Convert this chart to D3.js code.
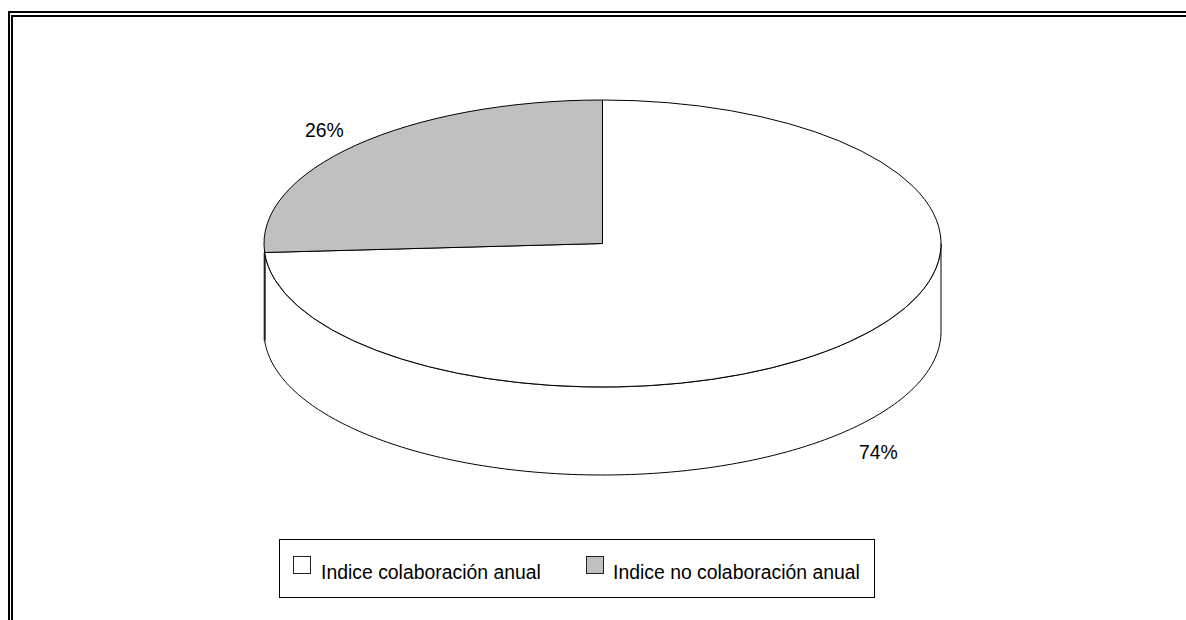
<!DOCTYPE html>
<html>
<head>
<meta charset="utf-8">
<script src="https://cdn.jsdelivr.net/npm/d3@7"></script>
<style>
  html, body { margin: 0; padding: 0; background: #fff; }
  svg { display: block; }
  text { font-family: "Liberation Sans", Arial, sans-serif; font-size: 19.4px; fill: #000; }
</style>
</head>
<body>
<script>
var categories = ["Indice colaboración anual", "Indice no colaboración anual"];
var values = [74, 26];
var sliceLabels = ["74%", "26%"];
var colors = ["#ffffff", "#c0c0c0"];

var width = 1186, height = 620;
var cx = 602.5, cy = 243.5, rx = 338.5, ry = 143.5, depth = 88;

var svg = d3.select("body").append("svg")
    .attr("width", width)
    .attr("height", height);

// double frame, open on the right and at the bottom
var frame = svg.append("g")
    .attr("fill", "none")
    .attr("stroke", "#000")
    .attr("stroke-width", 2);
frame.append("path").attr("d", "M9,620V12H1186");
frame.append("path").attr("d", "M12,620V16H1186");

var pie = d3.pie().sort(null);
var slices = pie(values);
var arc = d3.arc().innerRadius(0).outerRadius(rx);
var flat = "translate(" + cx + "," + cy + ") scale(1," + (ry / rx) + ")";

// side wall of the white slice, from the right edge round to where the grey slice starts
var wallAngle = slices[0].endAngle;
var wallPoints = d3.range(0, 181).map(function(i) {
    var a = Math.PI / 2 + (wallAngle - Math.PI / 2) * i / 180;
    return [cx + rx * Math.sin(a), cy - ry * Math.cos(a)];
});
var wallLine = d3.line();
var bottomPoints = wallPoints.map(function(p) { return [p[0], p[1] + depth]; });
var wallShape = bottomPoints.concat(wallPoints.slice().reverse());

svg.append("path")
    .attr("d", wallLine(wallShape) + "Z")
    .attr("fill", "#fff")
    .attr("stroke", "#000")
    .attr("stroke-width", 1);

// left wall edge reads heavier in the reference
svg.append("path")
    .attr("d", wallLine([wallPoints[180], bottomPoints[180]]))
    .attr("stroke", "#222")
    .attr("stroke-width", 2);

// top face
svg.append("g")
    .attr("transform", flat)
    .selectAll("path")
    .data(slices)
    .enter().append("path")
    .attr("d", arc)
    .attr("fill", function(d, i) { return colors[i]; })
    .attr("stroke", "#000")
    .attr("stroke-width", 1)
    .attr("vector-effect", "non-scaling-stroke");

// slice labels
var labelPos = [[859, 459], [305, 137]];
svg.selectAll("text.slice")
    .data(sliceLabels)
    .enter().append("text")
    .attr("class", "slice")
    .attr("x", function(d, i) { return labelPos[i][0]; })
    .attr("y", function(d, i) { return labelPos[i][1]; })
    .text(function(d) { return d; });

// legend
svg.append("rect")
    .attr("x", 279.5)
    .attr("y", 539.5)
    .attr("width", 595)
    .attr("height", 58)
    .attr("fill", "#fff")
    .attr("stroke", "#000")
    .attr("stroke-width", 1);

var swatchX = [293.5, 586.5], textX = [321, 613];
var legend = svg.selectAll("g.legend")
    .data(categories)
    .enter().append("g")
    .attr("class", "legend");
legend.append("rect")
    .attr("x", function(d, i) { return swatchX[i]; })
    .attr("y", 556.5)
    .attr("width", 17)
    .attr("height", 17)
    .attr("fill", function(d, i) { return colors[i]; })
    .attr("stroke", "#222")
    .attr("stroke-width", 1);
legend.append("text")
    .attr("x", function(d, i) { return textX[i]; })
    .attr("y", 579)
    .text(function(d) { return d; });
</script>
</body>
</html>
